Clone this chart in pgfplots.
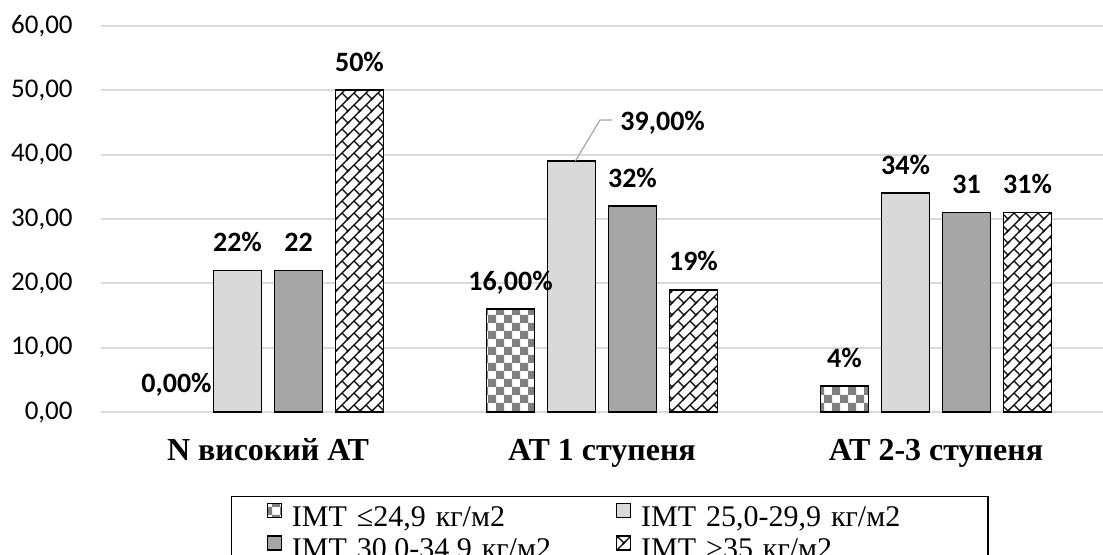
\documentclass[border=0pt]{standalone}
\usepackage{pgfplots}
\pgfplotsset{compat=1.18}
\usepackage{fontspec}
\setmainfont{Carlito}
\newfontfamily\tnr{Liberation Serif}
\usetikzlibrary{patterns}

\definecolor{lgray}{HTML}{D9D9D9}
\definecolor{dgray}{HTML}{A6A6A6}
\definecolor{grid}{HTML}{D9D9D9}

% larger checkerboard than the stock one
\pgfdeclarepatternformonly{bigcheck}{\pgfqpoint{0pt}{0pt}}{\pgfqpoint{8.1pt}{8.1pt}}{\pgfqpoint{8pt}{8pt}}{
  \pgfpathrectangle{\pgfpointorigin}{\pgfqpoint{4.05pt}{4.05pt}}
  \pgfpathrectangle{\pgfqpoint{4pt}{4pt}}{\pgfqpoint{4.05pt}{4.05pt}}
  \pgfusepath{fill}}
% diagonal brick
\pgfdeclarepatternformonly{dbrick}{\pgfqpoint{-1pt}{-1pt}}{\pgfqpoint{7pt}{7pt}}{\pgfqpoint{6pt}{6pt}}{
  \pgfsetlinewidth{0.6pt}
  \pgfpathmoveto{\pgfqpoint{-1pt}{-1pt}}\pgfpathlineto{\pgfqpoint{7pt}{7pt}}
  \pgfpathmoveto{\pgfqpoint{3pt}{3pt}}\pgfpathlineto{\pgfqpoint{6pt}{0pt}}
  \pgfusepath{stroke}}

\pgfplotsset{myleg/.style={legend image code/.code={\draw[##1, line width=0.6pt] (0pt,1.5pt) rectangle (7pt,8.5pt);}}}

\begin{document}
\begin{tikzpicture}
\path[use as bounding box] (-50.5pt,-71.5pt) rectangle (501pt,206pt);
\begin{axis}[
  scale only axis, width=501pt, height=193pt,
  ybar, bar width=24pt,
  xmin=-0.5, xmax=2.5, ymin=0, ymax=60,
  xtick={0,1,2},
  xticklabels={N високий АТ, АТ 1 ступеня, АТ 2-3 ступеня},
  ytick={0,10,20,30,40,50,60},
  yticklabels={{0,00},{10,00},{20,00},{30,00},{40,00},{50,00},{60,00}},
  major tick length=0pt,
  axis line style={draw=none},
  ymajorgrids, major grid style={draw=grid, line width=1pt},
  x tick label style={font=\tnr\bfseries\fontsize{16}{16}\selectfont, anchor=base, yshift=-24.5pt},
  y tick label style={font=\fontsize{13.5}{13.5}\selectfont, anchor=east, inner sep=0pt, xshift=-14pt},
  point meta=explicit symbolic,
  nodes near coords={\pgfplotspointmeta},
  every node near coord/.append style={font=\bfseries\fontsize{14}{14}\selectfont, anchor=base, inner sep=0pt, yshift=9.5pt},
  clip=false,
  every axis plot/.append style={myleg},
  legend columns=2,
  legend style={at={(0.1297,-0.2176)}, anchor=north west, draw=black, line width=0.75pt,
    inner xsep=17.5pt, inner ysep=3pt,
    font=\tnr\fontsize{15}{15}\selectfont,
    nodes={inner sep=0pt, text width=156pt, align=left, text height=10.5pt, text depth=4.5pt},
    /tikz/every odd column/.append style={column sep=5pt},
    /tikz/every even column/.append style={column sep=6pt}},
]
\addplot[bar shift=-45.75pt, draw=black, line width=0.9pt, fill=white, postaction={pattern=bigcheck, pattern color=gray}]
  coordinates {(1,16) [{16,00\%}] (2,4) [{4\%}]};
\addlegendentry{IMT ≤24,9 кг/м2}
\addplot[bar shift=-15.25pt, draw=black, line width=0.9pt, fill=lgray]
  coordinates {(0,22) [{22\%}] (1,39) [{}] (2,34) [{34\%}]};
\addlegendentry{IMT 25,0-29,9 кг/м2}
\addplot[bar shift=15.25pt, draw=black, line width=0.9pt, fill=dgray]
  coordinates {(0,22) [{22}] (1,32) [{32\%}] (2,31) [{31}]};
\addlegendentry{IMT 30.0-34.9 кг/м2}
\addplot[bar shift=45.75pt, draw=black, line width=0.9pt, fill=white, postaction={pattern=dbrick, pattern color=black}]
  coordinates {(0,50) [{50\%}] (1,19) [{19\%}] (2,31) [{31\%}]};
\addlegendentry{IMT >35 кг/м2}
% zero-height bar of the first series: label only
\addplot[bar shift=-45.75pt, draw=none, fill=none, forget plot]
  coordinates {(0,0) [{0,00\%}]};
% callout for the 39 label
\draw[dgray, line width=0.6pt] (axis cs:0.92,39) -- (axis cs:0.994,45.4) -- (axis cs:1.03,45.4);
\node[anchor=base west, inner sep=0pt, font=\bfseries\fontsize{14}{14}\selectfont] at (axis cs:1.054,43.8) {39,00\%};
\end{axis}
\end{tikzpicture}
\end{document}
